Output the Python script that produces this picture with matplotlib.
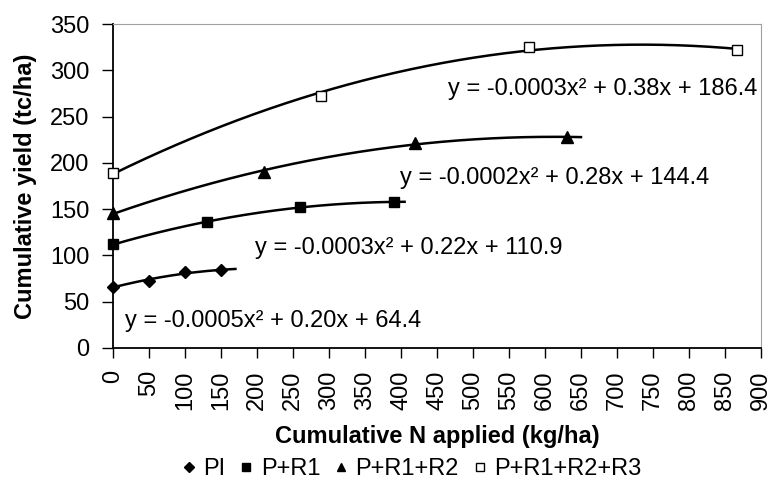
import numpy as np
import matplotlib
matplotlib.use('Agg')
from matplotlib import pyplot as plt
from matplotlib.lines import Line2D

plt.rcParams['font.family'] = ['Liberation Sans', 'DejaVu Sans']

# cumulative N applied (kg/ha) and cumulative yield (tc/ha)
x_pi = [0, 50, 100, 150]
y_pi = [66, 72.7, 82, 84]
x_r1 = [0, 130, 260, 390]
y_r1 = [112, 135.8, 152.6, 157.7]
x_r2 = [0, 210, 420, 630]
y_r2 = [145.5, 190.5, 221.8, 227.6]
x_r3 = [0, 289, 578, 867]
y_r3 = [189.4, 272.6, 325.5, 322]

labels = ['PI', 'P+R1', 'P+R1+R2', 'P+R1+R2+R3']
equations = ['y = -0.0005x² + 0.20x + 64.4',
             'y = -0.0003x² + 0.22x + 110.9',
             'y = -0.0002x² + 0.28x + 144.4',
             'y = -0.0003x² + 0.38x + 186.4']
forward = [20, 15, 20, 0]

series = [(x_pi, y_pi), (x_r1, y_r1), (x_r2, y_r2), (x_r3, y_r3)]
markers = [dict(marker='D', ms=6, mfc='k', mec='k'),
           dict(marker='s', ms=7, mfc='k', mec='k'),
           dict(marker='^', ms=8, mfc='k', mec='k'),
           dict(marker='s', ms=7, mfc='white', mec='k', mew=1.0)]

fig = plt.figure(figsize=(7.71, 4.84), dpi=100)
ax = fig.add_axes([0.1466, 0.281, 0.8404, 0.669])

# polynomial trendlines (order 2) through each series
for (xs, ys), m, fw in zip(series, markers, forward):
    coef = np.polyfit(xs, ys, 2)
    xx = np.linspace(0, xs[-1] + fw, 200)
    ax.plot(xx, np.polyval(coef, xx), color='k', lw=1.8, zorder=2)
    ax.plot(xs, ys, ls='none', zorder=3, clip_on=False, **m)

eq_pos = [(17, 23), (197, 102), (399, 177), (465, 273)]
for (ex, ey), eq in zip(eq_pos, equations):
    ax.text(ex, ey, eq, fontsize=17, va='baseline', ha='left')

ax.set_xlim(0, 900)
ax.set_ylim(0, 350)
ax.set_xticks(np.arange(0, 901, 50))
ax.set_yticks(np.arange(0, 351, 50))
ax.tick_params(axis='x', labelrotation=90, labelsize=17, direction='out',
               length=7, width=1, pad=9)
ax.tick_params(axis='y', labelsize=17, direction='out', length=8, width=1, pad=9)
for s in ['top', 'right']:
    ax.spines[s].set_color('#a0a0a0')
for s in ['left', 'bottom']:
    ax.spines[s].set_color('k')
    ax.spines[s].set_linewidth(1.3)

ax.set_xlabel('Cumulative N applied (kg/ha)', fontsize=17, fontweight='bold')
ax.set_ylabel('Cumulative yield (tc/ha)', fontsize=17, fontweight='bold')
ax.xaxis.label.set_va('center')
ax.yaxis.label.set_va('center')
ax.xaxis.set_label_coords(0.5, -0.272)
ax.yaxis.set_label_coords(-0.135, 0.5)

handles = [Line2D([], [], ls='none', color='k',
                  **dict(m, ms=m['ms'] * 0.8)) for m in markers]
fig.legend(handles, labels, loc='center', bbox_to_anchor=(0.534, 0.03), ncol=4,
           frameon=False, fontsize=17, handlelength=0.6, handletextpad=0.3,
           columnspacing=0.6, borderpad=0, borderaxespad=0)

fig.savefig('out.png', dpi=100)
